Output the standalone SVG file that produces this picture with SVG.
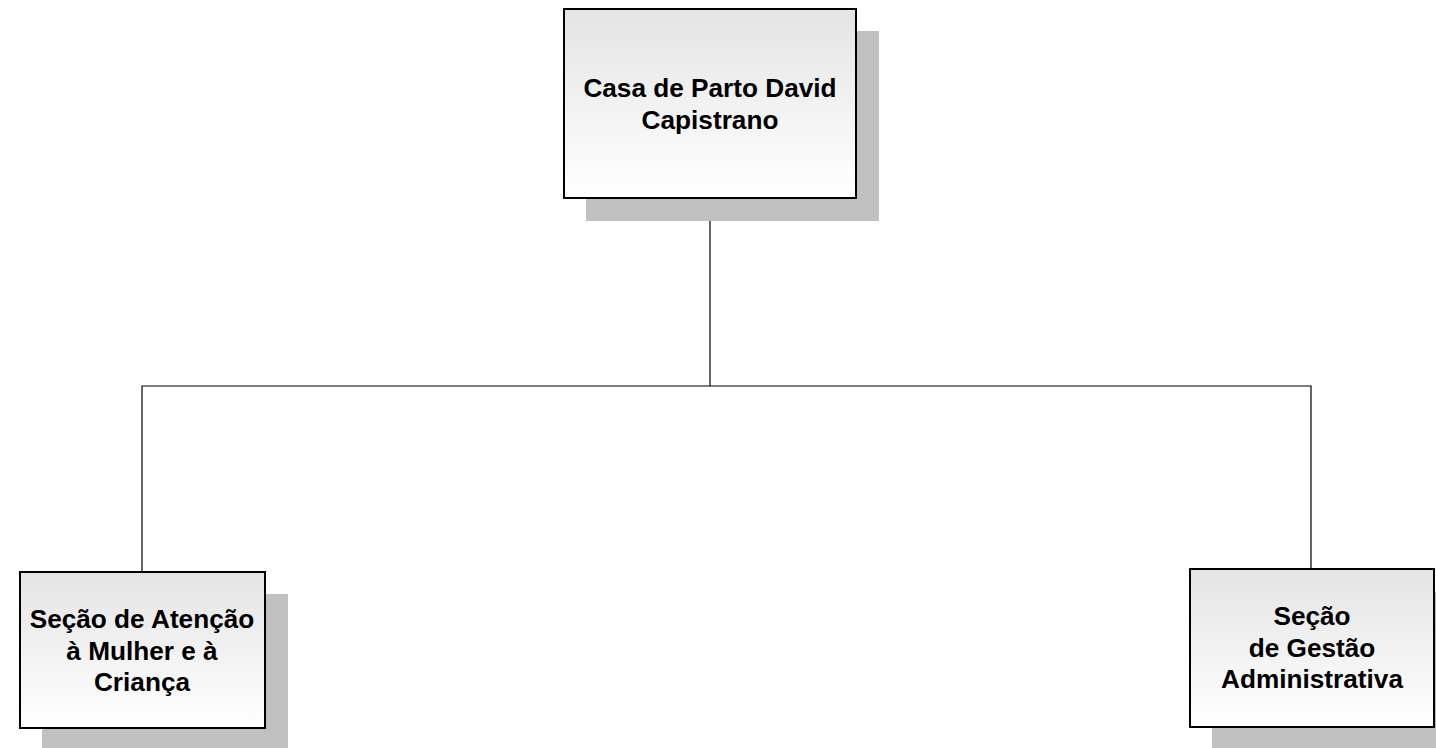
<svg xmlns="http://www.w3.org/2000/svg" width="1436" height="748" viewBox="0 0 1436 748">
<style>
.shadow{fill:#c0c0c0;stroke:none}
.box{fill:url(#g);stroke:#000;stroke-width:2}
.lbl{font-family:"Liberation Sans",Arial,sans-serif;font-weight:bold;font-size:26.2px;fill:#000;text-anchor:middle}
.conn{stroke:#000;stroke-width:1.2;fill:none}
</style>
<defs>
<linearGradient id="g" x1="0" y1="0" x2="0" y2="1">
<stop offset="0" stop-color="#e4e4e4"/>
<stop offset="1" stop-color="#ffffff"/>
</linearGradient>
</defs>
<rect width="1436" height="748" fill="#fff"/>
<g id="connectors">
<path class="conn" d="M710 198 V386 M142 572 V386 H1311 V569"/>
</g>
<g id="node-casa">
<rect class="shadow" x="586" y="31" width="293" height="190"/>
<rect class="box" x="564" y="9" width="292" height="189"/>
<text class="lbl" x="710" y="97">Casa de Parto David</text>
<text class="lbl" x="710" y="129">Capistrano</text>
</g>
<g id="node-atencao">
<rect class="shadow" x="42" y="594" width="246" height="160"/>
<rect class="box" x="20" y="572" width="245" height="156"/>
<text class="lbl" x="142" y="628">Seção de Atenção</text>
<text class="lbl" x="142" y="660">à Mulher e à</text>
<text class="lbl" x="142" y="691">Criança</text>
</g>
<g id="node-gestao">
<rect class="shadow" x="1212" y="592" width="240" height="160"/>
<rect class="box" x="1190" y="569" width="244" height="158"/>
<text class="lbl" x="1312" y="625">Seção</text>
<text class="lbl" x="1312" y="657">de Gestão</text>
<text class="lbl" x="1312" y="688">Administrativa</text>
</g>
</svg>
